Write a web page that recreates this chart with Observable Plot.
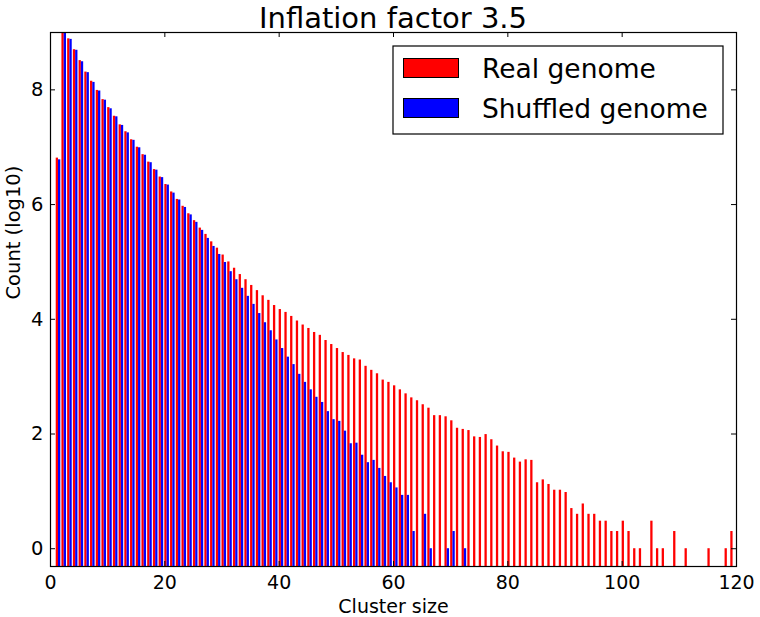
<!DOCTYPE html>
<html>
<head>
<meta charset="utf-8">
<script src="https://cdn.jsdelivr.net/npm/d3@7"></script>
<script src="https://cdn.jsdelivr.net/npm/@observablehq/plot@0.6"></script>
<style>
  html, body { margin: 0; padding: 0; background: #fff; }
  #wrap { position: relative; width: 760px; height: 617px; font-family: "DejaVu Sans", sans-serif; }
  #overlay { position: absolute; left: 0; top: 0; pointer-events: none; }
</style>
</head>
<body>
<div id="wrap"></div>
<script>
// ---- data (log10 counts per cluster size) ----
const realSize = [1,2,3,4,5,6,7,8,9,10,11,12,13,14,15,16,17,18,19,20,21,22,23,24,25,26,27,28,29,30,
  31,32,33,34,35,36,37,38,39,40,41,42,43,44,45,46,47,48,49,50,51,52,53,54,55,56,57,58,59,60,
  61,62,63,64,65,66,67,68,69,70,71,72,73,74,75,76,77,78,79,80,81,82,83,84,85,86,87,88,89,90,
  91,92,93,94,95,96,97,98,99,100,101,102,103,105,106,107,109,111,115,118,119];
const realLog = [6.81,9.2,8.89,8.70,8.51,8.31,8.15,7.99,7.83,7.69,7.54,7.39,7.27,7.13,7.00,6.87,6.74,6.61,6.48,6.35,
  6.22,6.09,5.97,5.84,5.72,5.59,5.48,5.35,5.24,5.12,5.00,4.89,4.78,4.69,4.59,4.50,4.41,4.33,4.24,4.17,
  4.12,4.05,3.97,3.90,3.84,3.77,3.72,3.63,3.56,3.49,3.42,3.37,3.31,3.29,3.18,3.11,3.05,2.94,2.90,2.84,
  2.77,2.70,2.63,2.58,2.51,2.45,2.32,2.32,2.30,2.23,2.10,2.08,2.06,1.95,1.94,1.99,1.90,1.79,1.69,1.68,
  1.58,1.51,1.55,1.54,1.15,1.20,1.12,1.02,1.02,0.98,0.70,0.60,0.78,0.60,0.60,0.48,0.48,0.30,0.30,0.48,
  0.30,0,0,0.48,0,0,0.30,0,0,0,0.30];
const shuffledSize = [1,2,3,4,5,6,7,8,9,10,11,12,13,14,15,16,17,18,19,20,21,22,23,24,25,26,27,28,29,30,
  31,32,33,34,35,36,37,38,39,40,41,42,43,44,45,46,47,48,49,50,51,52,53,54,55,56,57,58,59,60,
  61,62,63,65,66,69,70,72];
const shuffledLog = [6.78,9.2,8.88,8.69,8.49,8.30,8.13,7.98,7.82,7.67,7.53,7.38,7.25,7.12,6.99,6.86,6.73,6.60,6.47,6.34,
  6.20,6.08,5.95,5.82,5.69,5.55,5.41,5.27,5.13,4.99,4.83,4.69,4.54,4.40,4.26,4.10,3.94,3.80,3.64,3.49,
  3.34,3.21,3.04,2.90,2.77,2.64,2.55,2.39,2.25,2.22,2.05,1.83,1.84,1.63,1.50,1.54,1.40,1.26,1.15,1.06,
  0.93,0.93,0.30,0.60,0,0,0.30,0];
const xTicks = [0,20,40,60,80,100,120];
const yTicks = [0,2,4,6,8];
const seriesNames = ["Real genome","Shuffled genome"];
const seriesColors = ["#ff0000","#0000ff"];
const barWidth = 0.4;
const barBase = -1;

const real = realSize.map((s,i)=>({size:s, v:realLog[i]}));
const shuffled = shuffledSize.map((s,i)=>({size:s, v:shuffledLog[i]}));

const W = 760, H = 617, mL = 50, mR = 24, mT = 32, mB = 51;
const innerW = W - mL - mR, innerH = H - mT - mB;
const font = "DejaVu Sans, sans-serif";

const chart = Plot.plot({
  width: W, height: H,
  marginLeft: mL, marginRight: mR, marginTop: mT, marginBottom: mB,
  style: {fontFamily: font, background: "white", overflow: "visible"},
  x: {domain: [0,120]},
  y: {domain: [-0.31, 9]},
  marks: [
    Plot.rectY(real, {x1: d=>d.size, x2: d=>d.size+barWidth, y1: barBase, y2: "v",
      fill: seriesColors[0], clip: true}),
    Plot.rectY(shuffled, {x1: d=>d.size+barWidth, x2: d=>d.size+2*barWidth, y1: barBase, y2: "v",
      fill: seriesColors[1], clip: true}),
    Plot.frame({stroke: "black", strokeWidth: 1.2}),
    Plot.tickX(xTicks, {x: d=>d, insetTop: innerH-5, stroke: "black", strokeWidth: 1}),
    Plot.tickX(xTicks, {x: d=>d, insetBottom: innerH-5, stroke: "black", strokeWidth: 1}),
    Plot.tickY(yTicks, {y: d=>d, insetRight: innerW-5, stroke: "black", strokeWidth: 1}),
    Plot.tickY(yTicks, {y: d=>d, insetLeft: innerW-5, stroke: "black", strokeWidth: 1}),
    Plot.axisX({ticks: xTicks, tickSize: 0, tickPadding: 9, fontSize: 19, label: null, tickFormat: d=>String(d)}),
    Plot.axisY({ticks: yTicks, tickSize: 0, tickPadding: 7, fontSize: 19.5, label: null, tickFormat: d=>String(d)}),
    Plot.text(["Cluster size"], {frameAnchor: "bottom", lineAnchor: "middle", dy: 40, fontSize: 19, fill: "black"}),
    Plot.text(["Count (log10)"], {frameAnchor: "left", dx: -37, rotate: -90, fontSize: 19.5, fill: "black"})
  ]
});
document.getElementById("wrap").appendChild(chart);

// title & legend overlay
const svg = d3.select("#wrap").append("svg").attr("id","overlay")
  .attr("width", W).attr("height", H).style("font-family", font);
svg.append("text").attr("x", mL + innerW/2).attr("y", 28).attr("text-anchor","middle")
  .attr("font-size", 29).attr("fill","black").text("Inflation factor 3.5");
const lg = svg.append("g");
lg.append("rect").attr("x", 393).attr("y", 46).attr("width", 330).attr("height", 88)
  .attr("fill","white").attr("stroke","black").attr("stroke-width",1.2);
seriesNames.forEach((name,i)=>{
  const y0 = 58.5 + i*40;
  lg.append("rect").attr("x", 403.5).attr("y", y0).attr("width", 55).attr("height", 19)
    .attr("fill", seriesColors[i]).attr("stroke","black").attr("stroke-width",1);
  lg.append("text").attr("x", 482).attr("y", y0 + 19.5).attr("font-size", 26.5)
    .attr("fill","black").text(name);
});
</script>
</body>
</html>
